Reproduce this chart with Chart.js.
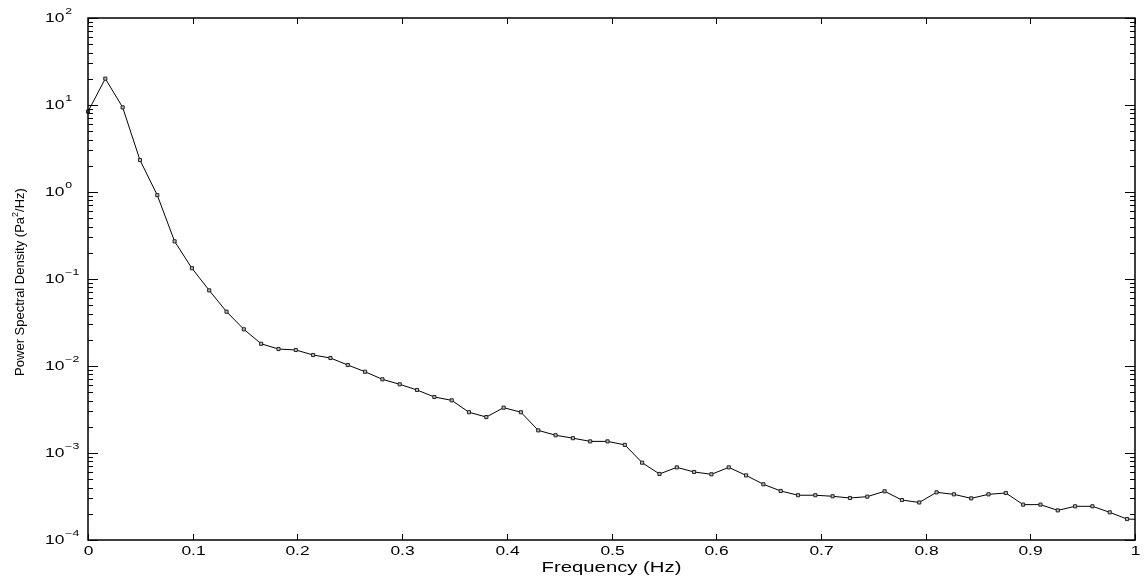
<!DOCTYPE html>
<html>
<head>
<meta charset="utf-8">
<script src="https://cdn.jsdelivr.net/npm/chart.js@4.4.1/dist/chart.umd.min.js"></script>
<style>
  body { margin: 0; background: #fff; }
  canvas { display: block; }
</style>
</head>
<body>
<canvas id="psdChart" width="1148" height="581"></canvas>
<script>
// frequency bin spacing (Hz) and PSD values (Pa^2/Hz)
var df = 0.01654;
var psd = [8.4, 20.1, 9.4, 2.33, 0.92, 0.271, 0.133, 0.074,
    0.0421, 0.0264, 0.0180, 0.01567, 0.01528, 0.01337, 0.01236, 0.01026,
    0.00859, 0.00703, 0.00616, 0.00530, 0.00440, 0.00403, 0.00294, 0.00259,
    0.00332, 0.00294, 0.00182, 0.00160, 0.00148, 0.00136, 0.00136, 0.00124,
    0.000774, 0.000574, 0.000684, 0.000605, 0.000569, 0.000684, 0.000553, 0.000437,
    0.000366, 0.000327, 0.000327, 0.000318, 0.000304, 0.000315, 0.000363, 0.000288,
    0.000270, 0.000353, 0.000335, 0.000301, 0.000335, 0.000347, 0.000255, 0.000255,
    0.000219, 0.000244, 0.000244, 0.000208, 0.000174, 0.000172];
var freq = psd.map(function (v, i) { return i * df; });

var xTickValues = [0, 0.1, 0.2, 0.3, 0.4, 0.5, 0.6, 0.7, 0.8, 0.9, 1];
var xTickLabels = ["0", "0.1", "0.2", "0.3", "0.4", "0.5", "0.6", "0.7", "0.8", "0.9", "1"];
var yExponents = [-4, -3, -2, -1, 0, 1, 2];

var xTitle = "Frequency (Hz)";
// y title in three pieces so the 2 can sit as a superscript
var yTitleParts = ["Power Spectral Density (Pa", "2", "/Hz)"];

var FONT = '"Liberation Sans", Arial, Helvetica, sans-serif';

function wideText(ctx, str, x, y, size, align, sx) {
    ctx.save();
    ctx.font = size + "px " + FONT;
    ctx.textAlign = align;
    ctx.textBaseline = "alphabetic";
    ctx.translate(x, y);
    ctx.scale(sx, 1);
    ctx.fillText(str, 0, 0);
    var w = ctx.measureText(str).width * sx;
    ctx.restore();
    return w;
}

function seg(ctx, x1, y1, x2, y2) {
    ctx.beginPath();
    ctx.moveTo(x1, y1);
    ctx.lineTo(x2, y2);
    ctx.stroke();
}

// matlab style box, inward ticks and labels
const matlabAxes = {
    id: "matlabAxes",
    afterDraw(chart) {
        const ctx = chart.ctx;
        const a = chart.chartArea;
        const x = chart.scales.x;
        const y = chart.scales.y;
        ctx.save();
        ctx.fillStyle = "#000";
        ctx.strokeStyle = "#000";
        ctx.lineWidth = 1;

        xTickValues.forEach(function (v, i) {
            const px = Math.round(x.getPixelForValue(v)) + 0.5;
            seg(ctx, px, a.bottom, px, a.bottom - 6);
            seg(ctx, px, a.top, px, a.top + 6);
            wideText(ctx, xTickLabels[i], px, 555, 12, "center", 1.45);
        });

        yExponents.forEach(function (e) {
            for (let m = 1; m < 10; m++) {
                const v = m * Math.pow(10, e);
                if (v > 100.0001) break;
                const py = Math.round(y.getPixelForValue(v)) + 0.5;
                const len = m === 1 ? 10 : 5;
                seg(ctx, a.left, py, a.left + len, py);
                seg(ctx, a.right, py, a.right - len, py);
            }
            const py = y.getPixelForValue(Math.pow(10, e));
            const w = wideText(ctx, "10", 45, py + 4, 12, "left", 1.45);
            const ex = e < 0 ? "\u2212" + (-e) : String(e);
            wideText(ctx, ex, 45 + w + 1, py - 4.5, 8.5, "left", 1.45);
        });

        ctx.lineWidth = 1.5;
        ctx.strokeRect(a.left, a.top, a.right - a.left, a.bottom - a.top);

        wideText(ctx, xTitle, (a.left + a.right) / 2, 572, 14, "center", 1.45);

        // rotated y title
        ctx.save();
        ctx.translate(24, (a.top + a.bottom) / 2 + 3);
        ctx.rotate(-Math.PI / 2);
        ctx.textAlign = "left";
        ctx.font = "13px " + FONT;
        const w0 = ctx.measureText(yTitleParts[0]).width;
        const w2 = ctx.measureText(yTitleParts[2]).width;
        ctx.font = "9px " + FONT;
        const w1 = ctx.measureText(yTitleParts[1]).width;
        let tx = -(w0 + w1 + w2) / 2;
        ctx.font = "13px " + FONT;
        ctx.fillText(yTitleParts[0], tx, 0);
        tx += w0;
        ctx.font = "9px " + FONT;
        ctx.fillText(yTitleParts[1], tx, -6);
        tx += w1;
        ctx.font = "13px " + FONT;
        ctx.fillText(yTitleParts[2], tx, 0);
        ctx.restore();

        ctx.restore();
    }
};

new Chart("psdChart", {
    type: "line",
    data: {
        datasets: [{
            data: freq.map(function (f, i) { return { x: f, y: psd[i] }; }),
            borderColor: "#000",
            borderWidth: 1,
            tension: 0,
            pointStyle: "rect",
            pointRadius: 2.2,
            pointBorderWidth: 1,
            pointBorderColor: "#222",
            pointBackgroundColor: "#bbb",
            clip: { left: 6, top: 6, right: 0, bottom: 6 }
        }]
    },
    options: {
        responsive: false,
        animation: false,
        devicePixelRatio: 1,
        layout: { padding: { left: 88, top: 18, right: 13, bottom: 41 } },
        scales: {
            x: { type: "linear", min: 0, max: 1, display: false },
            y: { type: "logarithmic", min: 1e-4, max: 100, display: false }
        },
        plugins: {
            legend: { display: false },
            tooltip: { enabled: false }
        }
    },
    plugins: [matlabAxes]
});
</script>
</body>
</html>
